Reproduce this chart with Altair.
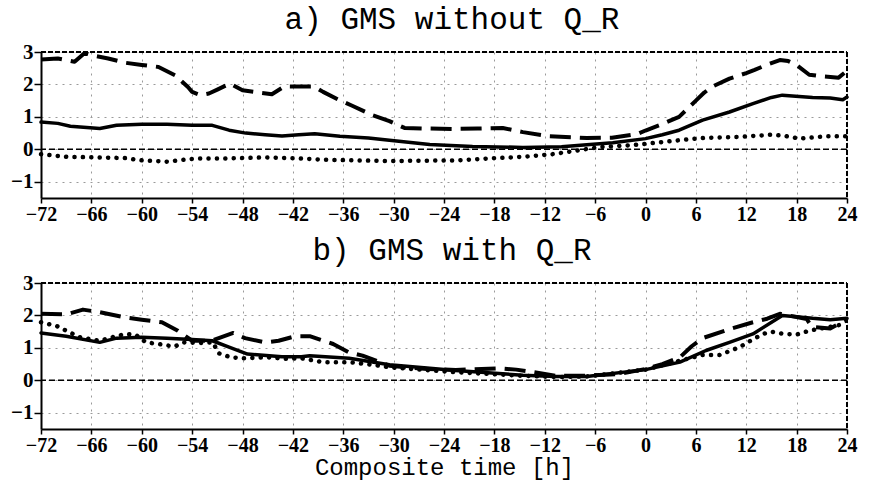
import altair as alt
import pandas as pd

# ---------------- data ----------------
x_ticks = [-72, -66, -60, -54, -48, -42, -36, -30, -24, -18, -12, -6, 0, 6, 12, 18, 24]
y_ticks = [-1, 0, 1, 2, 3]

# panel a) GMS without Q_R
a_dash_t = [-72, -70, -68, -66.8, -66, -64, -62, -60, -58, -56, -54.5, -54, -53, -52, -51, -49.5, -48, -46, -44.5,
            -43, -41, -39.5, -38.4, -36.4, -35, -32.5, -30.5, -28.7, -26, -23, -20, -17, -14.6, -11.4, -7, -4, -1,
            0, 2, 4, 6, 7, 8, 10, 12, 13, 14.4, 16, 17, 18, 19.5, 21, 23, 24]
a_dash_v = [2.77, 2.8, 2.7, 2.97, 2.9, 2.8, 2.67, 2.6, 2.54, 2.28, 1.92, 1.77, 1.67, 1.72, 1.84, 2.03, 1.82, 1.75, 1.70,
            1.94, 1.94, 1.94, 1.77, 1.51, 1.35, 1.05, 0.87, 0.66, 0.64, 0.63, 0.64, 0.66, 0.53, 0.40, 0.35, 0.36, 0.47,
            0.58, 0.78, 1.0, 1.5, 1.75, 1.94, 2.18, 2.35, 2.45, 2.6, 2.75, 2.72, 2.6, 2.3, 2.25, 2.21, 2.42]

a_solid_t = [-72, -70, -68.5, -65, -63, -60, -57, -54, -51.6, -49.6, -47.6, -45.3, -43.3, -41.3, -39.4, -36.4, -33,
             -30.5, -25.7, -20.6, -14.6, -10, -7, -3.9, 0, 2, 4, 6.8, 10, 12.8, 15, 16.3, 19.9, 22, 23.5, 24]
a_solid_v = [0.84, 0.8, 0.71, 0.64, 0.74, 0.77, 0.77, 0.74, 0.74, 0.59, 0.5, 0.45, 0.41, 0.45, 0.48, 0.40, 0.35,
             0.28, 0.15, 0.09, 0.06, 0.08, 0.14, 0.2, 0.33, 0.45, 0.59, 0.9, 1.15, 1.41, 1.6, 1.67, 1.6, 1.58, 1.53, 1.61]

a_dot_t = [-72, -69, -65, -62, -60, -57, -53.5, -49.6, -45.3, -41.3, -38.4, -30.5, -22.5, -18.6, -14.6, -11.1, -8,
           -5.5, -2, 0, 4, 7, 11, 15, 16.5, 18.3, 21.5, 24]
a_dot_v = [-0.15, -0.23, -0.25, -0.27, -0.34, -0.38, -0.28, -0.28, -0.25, -0.28, -0.32, -0.36, -0.34, -0.28, -0.23,
           -0.15, -0.03, 0.07, 0.12, 0.17, 0.28, 0.35, 0.38, 0.45, 0.42, 0.33, 0.4, 0.4]

# panel b) GMS with Q_R
b_dash_t = [-72, -69, -67, -65, -62, -60, -57.6, -55.7, -54, -51.7, -50.5, -49.1, -47.7, -45.3, -43.7, -41.7, -40,
            -37.2, -35.3, -33.7, -30.5, -26, -22.6, -17.4, -15.4, -13.8, -10.7, -7, -3, 0, 2, 4.1, 5.5, 6.8, 10,
            12.8, 14.5, 16, 18, 19.2, 19.8, 22, 23, 24]
b_dash_v = [2.05, 2.03, 2.18, 2.1, 1.94, 1.87, 1.79, 1.53, 1.22, 1.22, 1.33, 1.46, 1.30, 1.17, 1.22, 1.36, 1.36,
            1.12, 0.86, 0.76, 0.45, 0.35, 0.32, 0.37, 0.33, 0.27, 0.14, 0.14, 0.2, 0.35, 0.5, 0.71, 1.05, 1.3, 1.58,
            1.79, 1.9, 2.05, 1.95, 1.89, 1.65, 1.6, 1.74, 1.85]

b_solid_t = [-72, -69, -65, -63, -60, -57, -54, -51.6, -49.6, -47.4, -43.3, -41, -40, -35.3, -30.5, -22.6, -14.6,
             -10.7, -7, 0, 4.1, 7.2, 10, 12.8, 16.3, 19.9, 22, 24]
b_solid_v = [1.46, 1.36, 1.17, 1.30, 1.33, 1.30, 1.26, 1.22, 1.02, 0.81, 0.73, 0.73, 0.76, 0.68, 0.48, 0.30, 0.16,
             0.12, 0.12, 0.33, 0.56, 0.92, 1.17, 1.43, 2.0, 1.91, 1.87, 1.91]

b_dot_t = [-72, -70.1, -69, -67.4, -65, -63.5, -61.9, -60.7, -59.5, -58, -56.1, -55, -53.2, -51.5, -50.9, -49.4,
           -47.8, -45, -42.7, -41, -38.4, -35.3, -32.5, -30.5, -22.6, -14.6, -10.7, -7, 0, 4, 6.8, 8.8, 11.2, 12.5,
           14, 15, 16.5, 18, 19.5, 21, 24]
b_dot_v = [1.79, 1.67, 1.53, 1.33, 1.22, 1.33, 1.43, 1.40, 1.17, 1.12, 1.04, 1.17, 1.15, 1.17, 0.84, 0.71, 0.68,
           0.71, 0.66, 0.68, 0.56, 0.56, 0.48, 0.40, 0.25, 0.14, 0.10, 0.12, 0.33, 0.6, 0.78, 0.78, 1.02, 1.22, 1.43,
           1.5, 1.43, 1.41, 1.53, 1.6, 1.75]

W, H = 806, 146
LABEL_FONT = "Liberation Serif"
TITLE_FONT = "Liberation Mono"
MINUS_EXPR = "replace(format(datum.value, 'd'), /[-\u2212]/, '\u2212')"


def frame(series):
    rows = []
    for name, ts, vs in series:
        for i, (t, v) in enumerate(zip(ts, vs)):
            rows.append({"series": name, "t": t, "v": v, "i": i})
    return pd.DataFrame(rows)


def panel(series, title, xtitle):
    df = frame(series)
    xs = alt.Scale(domain=[-72, 24], nice=False, zero=False)
    ys = alt.Scale(domain=[-1.5, 3], nice=False, zero=False)
    xaxis = alt.Axis(values=x_ticks, title=xtitle, grid=True, gridColor="#9a9a9a", gridDash=[2, 5],
                     gridWidth=1, domainColor="black", domainWidth=2, tickColor="black", tickWidth=1.5,
                     tickSize=5, labelFont=LABEL_FONT, labelFontSize=20, labelFontWeight="bold",
                     labelColor="black", labelPadding=1, labelExpr=MINUS_EXPR, labelOverlap=False,
                     labelFlush=False,
                     titleFont=TITLE_FONT, titleFontSize=24, titleFontWeight="normal", titleColor="black",
                     titlePadding=0)
    yaxis = alt.Axis(values=y_ticks, title=None, grid=True, gridColor="#9a9a9a", gridDash=[2, 5], gridWidth=1,
                     domainColor="black", domainWidth=2, tickColor="black", tickWidth=1.5, tickSize=7,
                     labelFont=LABEL_FONT, labelFontSize=21, labelFontWeight="bold", labelColor="black",
                     labelPadding=1, labelExpr=MINUS_EXPR, labelFlush=False)
    base = alt.Chart(df)
    enc = dict(x=alt.X("t:Q", scale=xs, axis=xaxis), y=alt.Y("v:Q", scale=ys, axis=yaxis),
               order="i:Q")
    solid = base.transform_filter(alt.datum.series == "solid").mark_line(
        color="black", strokeWidth=3.5, strokeCap="round", strokeJoin="round").encode(**enc)
    dashed = base.transform_filter(alt.datum.series == "dashed").mark_line(
        color="black", strokeWidth=4, strokeDash=[21, 9], strokeCap="butt", strokeJoin="round").encode(**enc)
    dotted = base.transform_filter(alt.datum.series == "dotted").mark_line(
        color="black", strokeWidth=4.5, strokeDash=[0.1, 8.3], strokeCap="round").encode(**enc)
    zero = alt.Chart(pd.DataFrame({"z": [0]})).mark_rule(color="black", strokeWidth=1.5, strokeDash=[6, 3]).encode(
        y=alt.Y("z:Q", scale=ys, axis=yaxis))
    top = alt.Chart(pd.DataFrame({"z": [0]})).mark_rule(color="black", strokeWidth=2, strokeDash=[5, 2]).encode(
        x=alt.value(0), x2=alt.value(W), y=alt.value(0))
    right = alt.Chart(pd.DataFrame({"z": [0]})).mark_rule(color="black", strokeWidth=2, strokeDash=[5, 2]).encode(
        x=alt.value(W), y=alt.value(0), y2=alt.value(H))
    return alt.layer(solid, dashed, dotted, zero, top, right).properties(
        width=W, height=H,
        title=alt.TitleParams(title, font=TITLE_FONT, fontSize=31, fontWeight="normal", color="black",
                              anchor="middle", frame="group", offset=5, dx=8))


pa = panel([("solid", a_solid_t, a_solid_v), ("dashed", a_dash_t, a_dash_v), ("dotted", a_dot_t, a_dot_v)],
           "a) GMS without Q_R", None)
pb = panel([("solid", b_solid_t, b_solid_v), ("dashed", b_dash_t, b_dash_v), ("dotted", b_dot_t, b_dot_v)],
           "b) GMS with Q_R", "Composite time [h]")

chart = alt.vconcat(pa, pb, spacing=9).properties(
    padding={"left": 10, "top": 3, "right": 5, "bottom": 1}
).configure_view(stroke=None).configure(background="white")

chart.save("out.html", embed_options={"renderer": "svg", "actions": False})
